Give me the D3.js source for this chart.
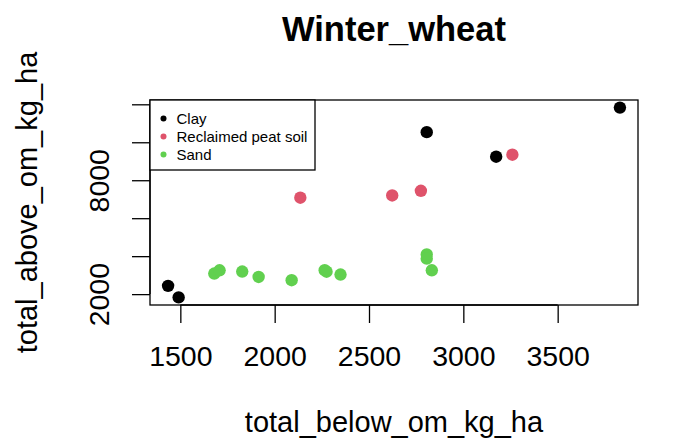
<!DOCTYPE html>
<html>
<head>
<meta charset="utf-8">
<script src="https://cdn.jsdelivr.net/npm/d3@7"></script>
<style>
  html, body { margin: 0; padding: 0; background: #fff; }
  svg { display: block; }
  text { font-family: "Liberation Sans", Arial, sans-serif; fill: #000; }
</style>
</head>
<body>
<svg id="chart" width="681" height="448"></svg>
<script>
// ---- data ----
const title = "Winter_wheat";
const xLabel = "total_below_om_kg_ha";
const yLabel = "total_above_om_kg_ha";
const groups = ["Clay", "Reclaimed peat soil", "Sand"];
const groupColors = ["#000000", "#DF536B", "#61D04F"];

const clayX = [1435, 1491, 2806, 3174, 3830];
const clayY = [2435, 1827, 10534, 9241, 11827];
const peatX = [2136, 2623, 2775, 3260];
const peatY = [7079, 7199, 7445, 9346];
const sandX = [1680, 1708, 1828, 1915, 2090, 2265, 2275, 2349, 2806, 2806, 2833];
const sandY = [3084, 3257, 3188, 2906, 2733, 3260, 3180, 3031, 4094, 3869, 3257];

const xTicks = [1500, 2000, 2500, 3000, 3500];
const yTicks = [2000, 4000, 6000, 8000, 10000, 12000];
const yTickLabels = ["2000", "", "", "8000", "", ""];

// ---- layout ----
const svg = d3.select("#chart");
const plot = { left: 150, right: 638, top: 100, bottom: 305 };

const allX = clayX.concat(peatX, sandX);
const allY = clayY.concat(peatY, sandY);
function rExt(arr) {
  const [a, b] = d3.extent(arr);
  const p = (b - a) * 0.04;
  return [a - p, b + p];
}
const x = d3.scaleLinear().domain(rExt(allX)).range([plot.left, plot.right]);
const y = d3.scaleLinear().domain(rExt(allY)).range([plot.bottom, plot.top]);

// points
const series = [
  { xs: clayX, ys: clayY, c: groupColors[0] },
  { xs: peatX, ys: peatY, c: groupColors[1] },
  { xs: sandX, ys: sandY, c: groupColors[2] }
];
series.forEach(s => {
  svg.append("g").selectAll("circle")
    .data(s.xs.map((v, i) => [v, s.ys[i]]))
    .join("circle")
    .attr("cx", d => x(d[0]))
    .attr("cy", d => y(d[1]))
    .attr("r", 6.2)
    .attr("fill", s.c);
});

// box
svg.append("rect")
  .attr("x", plot.left).attr("y", plot.top)
  .attr("width", plot.right - plot.left).attr("height", plot.bottom - plot.top)
  .attr("fill", "none").attr("stroke", "#000").attr("stroke-width", 1.3);

// x axis
const xAxis = d3.axisBottom(x).tickValues(xTicks).tickSize(18).tickPadding(23)
  .tickFormat(d3.format("d"));
const gx = svg.append("g").attr("transform", `translate(0,${plot.bottom})`).call(xAxis);
gx.select(".domain").attr("d", `M${x(xTicks[0])},0H${x(xTicks[xTicks.length - 1])}`)
  .attr("stroke-width", 1.3);
gx.selectAll(".tick line").attr("stroke-width", 1.3);
gx.selectAll(".tick text").attr("font-size", 28.5).attr("font-family", "Liberation Sans, Arial, sans-serif")
  .attr("fill", "#000");

// y axis
const yAxis = d3.axisLeft(y).tickValues(yTicks).tickSize(18)
  .tickFormat((d, i) => yTickLabels[i]);
const gy = svg.append("g").attr("transform", `translate(${plot.left},0)`).call(yAxis);
gy.select(".domain").attr("d", `M0,${y(yTicks[0])}V${y(yTicks[yTicks.length - 1])}`)
  .attr("stroke-width", 1.3);
gy.selectAll(".tick line").attr("stroke-width", 1.3);
gy.selectAll(".tick text")
  .attr("font-size", 28.5).attr("font-family", "Liberation Sans, Arial, sans-serif")
  .attr("fill", "#000")
  .attr("x", null).attr("dy", null)
  .attr("text-anchor", "middle")
  .attr("transform", `translate(${109 - plot.left},0) rotate(-90)`);

// title and labels
svg.append("text").attr("x", (plot.left + plot.right) / 2).attr("y", 41)
  .attr("text-anchor", "middle").attr("font-size", 34.5).attr("font-weight", "bold")
  .text(title);
svg.append("text").attr("x", (plot.left + plot.right) / 2).attr("y", 432)
  .attr("text-anchor", "middle").attr("font-size", 29).text(xLabel);
svg.append("text")
  .attr("transform", `translate(37,${(plot.top + plot.bottom) / 2}) rotate(-90)`)
  .attr("text-anchor", "middle").attr("font-size", 29).text(yLabel);

// legend
const lg = svg.append("g");
lg.append("rect").attr("x", plot.left).attr("y", plot.top)
  .attr("width", 165).attr("height", 70)
  .attr("fill", "#fff").attr("stroke", "#000").attr("stroke-width", 1.3);
groups.forEach((g, i) => {
  const cy = 118.5 + i * 18;
  lg.append("circle").attr("cx", 163.5).attr("cy", cy).attr("r", 3).attr("fill", groupColors[i]);
  lg.append("text").attr("x", 176.5).attr("y", cy).attr("dy", "0.35em")
    .attr("font-size", 15).text(g);
});
</script>
</body>
</html>
